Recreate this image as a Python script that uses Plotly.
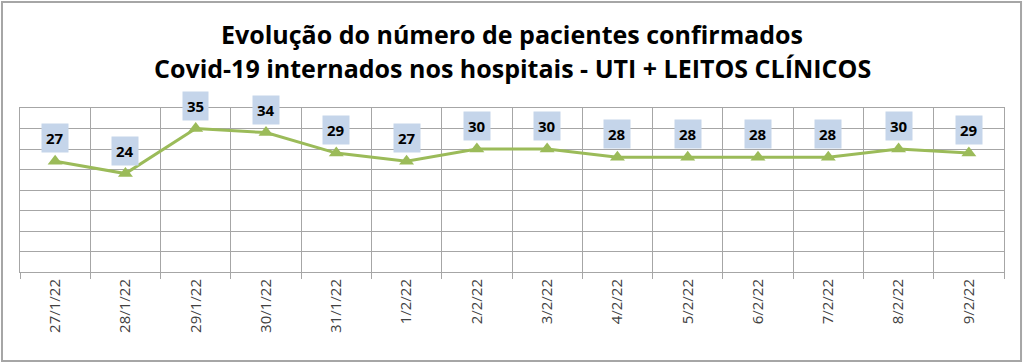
import plotly.graph_objects as go

dates = ["27/1/22", "28/1/22", "29/1/22", "30/1/22", "31/1/22", "1/2/22", "2/2/22",
         "3/2/22", "4/2/22", "5/2/22", "6/2/22", "7/2/22", "8/2/22", "9/2/22"]
pacientes = [27, 24, 35, 34, 29, 27, 30, 30, 28, 28, 28, 28, 30, 29]

title_lines = ["Evolução do número de pacientes confirmados",
               "Covid-19 internados nos hospitais - UTI + LEITOS CLÍNICOS"]

fig = go.Figure()
fig.add_trace(go.Scatter(
    x=dates, y=pacientes, mode="lines+markers",
    line=dict(color="#9bbb59", width=3),
    marker=dict(symbol="triangle-up", size=13, color="#9bbb59"),
    hoverinfo="skip", showlegend=False,
))

for d, v in zip(dates, pacientes):
    fig.add_annotation(x=d, y=v, text=f"<b>{v}</b>", showarrow=False, yshift=23,
                       bgcolor="#c5d5ea", borderpad=4,
                       font=dict(family="Open Sans", size=15, color="#000000"))

for line, ypos in zip(title_lines, [1.451, 1.244]):
    fig.add_annotation(xref="paper", yref="paper", x=0.5, y=ypos, text=f"<b>{line}</b>",
                       showarrow=False, xanchor="center", yanchor="middle",
                       font=dict(family="Open Sans", size=25, color="#000000"))

fig.update_layout(
    width=1024, height=364,
    margin=dict(l=20, r=20, t=108, b=92),
    paper_bgcolor="white", plot_bgcolor="white",
    font=dict(family="Open Sans"),
)
fig.update_xaxes(type="category", tickson="boundaries", range=[-0.5, len(dates) - 0.5],
                 showgrid=True, gridcolor="#a6a6a6",
                 gridwidth=1, ticks="outside", ticklen=6, tickcolor="#a6a6a6",
                 tickangle=-90, tickfont=dict(family="Open Sans", size=15, color="#404040"),
                 showline=True, linecolor="#a6a6a6", mirror=True, zeroline=False)
fig.update_yaxes(range=[0, 40], dtick=5, showgrid=True, gridcolor="#a6a6a6", gridwidth=1,
                 showticklabels=False, showline=True, linecolor="#a6a6a6", mirror=True,
                 zeroline=False)

fig.add_shape(type="rect", xref="paper", yref="paper", x0=-0.0183, x1=1.0173, y0=-0.543, y1=1.646,
              line=dict(color="#a6a6a6", width=2), fillcolor="rgba(0,0,0,0)", layer="below")

fig.write_html("out.html", config={"displayModeBar": False},
               post_script="document.body.style.margin='0';")
